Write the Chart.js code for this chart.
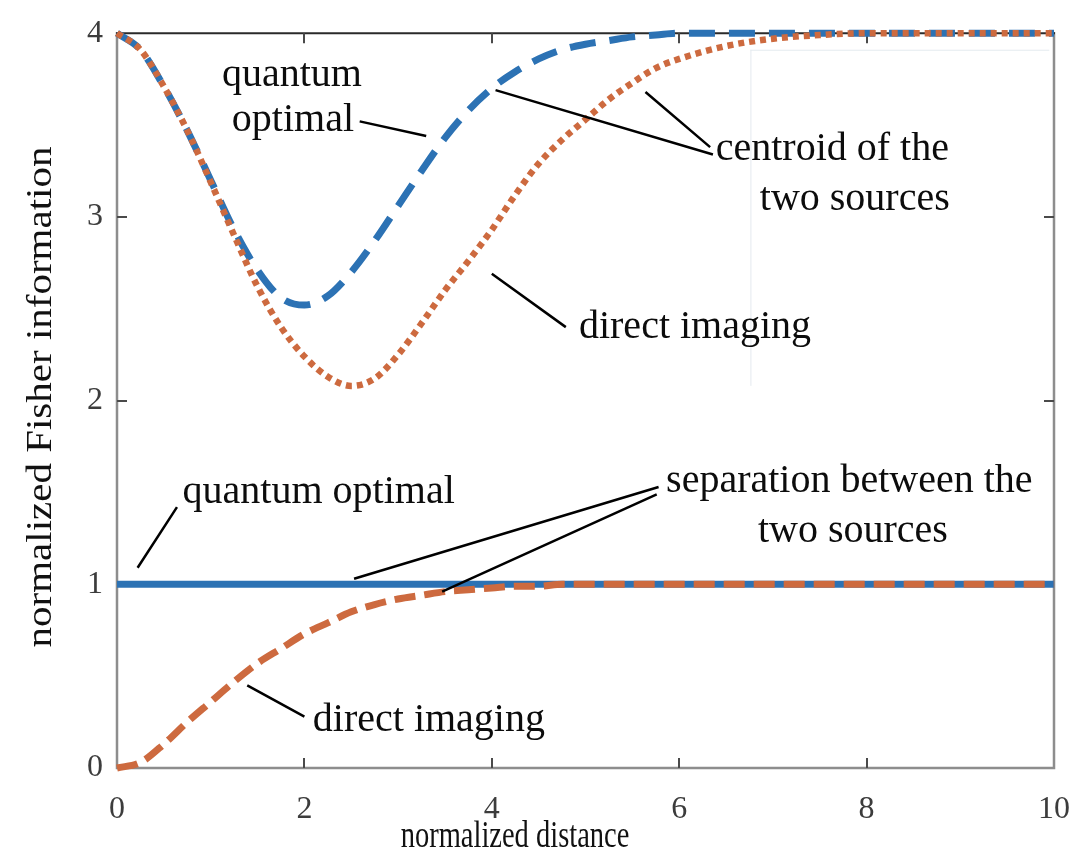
<!DOCTYPE html>
<html>
<head>
<meta charset="utf-8">
<style>
  html, body { margin: 0; padding: 0; background: #ffffff; }
  #chart { display: block; }
</style>
<script src="https://cdn.jsdelivr.net/npm/chart.js@4.4.1/dist/chart.umd.min.js"></script>
</head>
<body>
<canvas id="chart" width="1092" height="855"></canvas>
<script>
// Normalized distance between the two point sources
const distance = [0, 0.25, 0.5, 0.75, 1, 1.25, 1.5, 1.75, 2, 2.25, 2.5, 2.75, 3, 3.25, 3.5, 3.75,
                  4, 4.25, 4.5, 4.75, 5, 5.25, 5.5, 5.75, 6, 6.5, 7, 7.5, 8, 8.5, 9, 9.5, 10];

// Fisher information for estimating the centroid of the two sources
const centroidQuantum = [4.00, 3.91, 3.71, 3.47, 3.20, 2.93, 2.71, 2.56, 2.52, 2.57, 2.70, 2.87, 3.06, 3.25, 3.43, 3.58,
                         3.70, 3.79, 3.86, 3.91, 3.94, 3.96, 3.98, 3.99, 4.00, 4.00, 4.00, 4.00, 4.00, 4.00, 4.00, 4.00, 4.00];
const centroidDirect  = [4.00, 3.91, 3.71, 3.47, 3.19, 2.90, 2.62, 2.40, 2.24, 2.13, 2.08, 2.12, 2.25, 2.42, 2.60, 2.76,
                         2.93, 3.12, 3.29, 3.42, 3.53, 3.64, 3.73, 3.81, 3.86, 3.93, 3.97, 3.99, 4.00, 4.00, 4.00, 4.00, 4.00];

// Fisher information for estimating the separation between the two sources
const separationQuantum = [1, 1, 1, 1, 1, 1, 1, 1, 1, 1, 1, 1, 1, 1, 1, 1,
                           1, 1, 1, 1, 1, 1, 1, 1, 1, 1, 1, 1, 1, 1, 1, 1, 1];
const separationDirect  = [0.00, 0.03, 0.13, 0.25, 0.36, 0.47, 0.57, 0.65, 0.73, 0.79, 0.85, 0.89, 0.92, 0.94, 0.96, 0.97,
                           0.98, 0.99, 0.99, 1.00, 1.00, 1.00, 1.00, 1.00, 1.00, 1.00, 1.00, 1.00, 1.00, 1.00, 1.00, 1.00, 1.00];

const xTicks = [0, 2, 4, 6, 8, 10];
const yTicks = [0, 1, 2, 3, 4];

const xTitle = 'normalized distance';
const yTitle = 'normalized Fisher information';

// Callout labels: text lines anchored in data units
const callouts = [
  { text: 'quantum',                x: 1.12, y: 3.71, align: 'left' },
  { text: 'optimal',                x: 2.53, y: 3.47, align: 'right' },
  { text: 'centroid of the',        x: 6.39, y: 3.31, align: 'left' },
  { text: 'two sources',            x: 6.86, y: 3.04, align: 'left' },
  { text: 'direct imaging',         x: 4.93, y: 2.34, align: 'left' },
  { text: 'quantum optimal',        x: 0.70, y: 1.44, align: 'left' },
  { text: 'separation between the', x: 5.86, y: 1.50, align: 'left' },
  { text: 'two sources',            x: 6.84, y: 1.23, align: 'left' },
  { text: 'direct imaging',         x: 2.09, y: 0.20, align: 'left' }
];

// Leader lines from the labels to the curves, in data units
const leaders = [
  [2.59, 3.52, 3.30, 3.44],
  [6.36, 3.34, 4.04, 3.69],
  [6.33, 3.38, 5.64, 3.68],
  [4.79, 2.40, 4.00, 2.69],
  [0.64, 1.42, 0.22, 1.09],
  [5.78, 1.53, 2.53, 1.03],
  [5.76, 1.49, 3.47, 0.96],
  [2.00, 0.28, 1.39, 0.45]
];

const BLUE = '#2c72b4';
const ORANGE = '#cd6a3f';
const SERIF = '"Liberation Serif", "Times New Roman", serif';

const toPoints = (ys) => distance.map((x, i) => ({ x: x, y: ys[i] }));

// Axes box with inward tick marks, drawn under the curves
const axesBox = {
  id: 'axesBox',
  beforeDatasetsDraw(chart) {
    const { ctx, chartArea: a, scales: { x, y } } = chart;
    ctx.save();
    // faint edge of a pasted text panel
    ctx.strokeStyle = '#e4eaef';
    ctx.lineWidth = 1;
    ctx.beginPath();
    ctx.moveTo(x.getPixelForValue(6.76) + 0.5, y.getPixelForValue(3.91));
    ctx.lineTo(x.getPixelForValue(6.76) + 0.5, y.getPixelForValue(2.08));
    ctx.moveTo(x.getPixelForValue(6.76), y.getPixelForValue(3.91) + 0.5);
    ctx.lineTo(x.getPixelForValue(9.95), y.getPixelForValue(3.91) + 0.5);
    ctx.stroke();

    ctx.lineCap = 'square';
    ctx.strokeStyle = '#8d8d8d';
    ctx.lineWidth = 2.5;
    ctx.beginPath();
    ctx.moveTo(a.left, a.top);
    ctx.lineTo(a.left, a.bottom);
    ctx.lineTo(a.right, a.bottom);
    ctx.lineTo(a.right, a.top);
    ctx.stroke();
    ctx.strokeStyle = '#2a2a2a';
    ctx.lineWidth = 2;
    ctx.beginPath();
    ctx.moveTo(a.left, a.top);
    ctx.lineTo(a.right, a.top);
    ctx.stroke();

    ctx.lineCap = 'butt';
    ctx.lineWidth = 2;
    const len = 10;
    ctx.strokeStyle = '#4a4a4a';
    ctx.beginPath();
    xTicks.forEach(v => {
      const px = Math.round(x.getPixelForValue(v));
      if (v === x.min || v === x.max) return;
      ctx.moveTo(px, a.bottom); ctx.lineTo(px, a.bottom - len);
      ctx.moveTo(px, a.top); ctx.lineTo(px, a.top + len);
    });
    yTicks.forEach(v => {
      const py = Math.round(y.getPixelForValue(v));
      if (v === y.min || v === y.max) return;
      ctx.moveTo(a.left, py); ctx.lineTo(a.left + len, py);
      ctx.moveTo(a.right, py); ctx.lineTo(a.right - len, py);
    });
    ctx.stroke();
    ctx.restore();
  },
  afterDatasetsDraw(chart) {
    const { ctx, scales: { x, y } } = chart;
    ctx.save();
    ctx.strokeStyle = '#000000';
    ctx.lineWidth = 2.5;
    ctx.lineCap = 'butt';
    ctx.beginPath();
    leaders.forEach(([x1, y1, x2, y2]) => {
      ctx.moveTo(x.getPixelForValue(x1), y.getPixelForValue(y1));
      ctx.lineTo(x.getPixelForValue(x2), y.getPixelForValue(y2));
    });
    ctx.stroke();

    ctx.fillStyle = '#0c0c0c';
    ctx.font = '40px ' + SERIF;
    ctx.textBaseline = 'alphabetic';
    callouts.forEach(c => {
      ctx.textAlign = c.align;
      ctx.fillText(c.text, x.getPixelForValue(c.x), y.getPixelForValue(c.y));
    });

    // axis titles, set slightly condensed
    ctx.fillStyle = '#111111';
    ctx.textAlign = 'center';
    ctx.save();
    ctx.translate(515, 847);
    ctx.scale(0.75, 1);
    ctx.font = '38px ' + SERIF;
    ctx.fillText(xTitle, 0, 0);
    ctx.restore();

    ctx.save();
    ctx.translate(51, 397);
    ctx.rotate(-Math.PI / 2);
    ctx.scale(1, 0.85);
    ctx.font = '41px ' + SERIF;
    ctx.fillText(yTitle, 0, 0);
    ctx.restore();
    ctx.restore();
  }
};

new Chart(document.getElementById('chart'), {
  type: 'line',
  data: {
    datasets: [
      {
        label: 'direct imaging (separation)',
        data: toPoints(separationDirect),
        borderColor: ORANGE,
        borderWidth: 7,
        borderDash: [21, 9],
        cubicInterpolationMode: 'monotone',
        pointRadius: 0,
        clip: 10
      },
      {
        label: 'direct imaging (centroid)',
        data: toPoints(centroidDirect),
        borderColor: ORANGE,
        borderWidth: 6.5,
        borderDash: [6, 5],
        cubicInterpolationMode: 'monotone',
        pointRadius: 0,
        clip: 10
      },
      {
        label: 'quantum optimal (separation)',
        data: toPoints(separationQuantum),
        borderColor: BLUE,
        borderWidth: 7,
        pointRadius: 0,
        clip: 10
      },
      {
        label: 'quantum optimal (centroid)',
        data: toPoints(centroidQuantum),
        borderColor: BLUE,
        borderWidth: 7,
        borderDash: [26, 14],
        cubicInterpolationMode: 'monotone',
        pointRadius: 0,
        clip: 10
      }
    ]
  },
  options: {
    responsive: false,
    devicePixelRatio: 1,
    animation: false,
    events: [],
    layout: { autoPadding: false, padding: { left: 0, top: 28, right: 35, bottom: 0 } },
    plugins: {
      legend: { display: false },
      tooltip: { enabled: false },
      title: { display: false }
    },
    scales: {
      x: {
        type: 'linear',
        min: 0,
        max: 10,
        afterBuildTicks: (s) => { s.ticks = xTicks.map(v => ({ value: v })); },
        afterFit: (s) => { s.height = 87; },
        grid: { display: false, drawTicks: false },
        border: { display: false },
        ticks: {
          padding: 22,
          maxRotation: 0,
          color: '#3c3c3c',
          font: { family: SERIF, size: 32 }
        }
      },
      y: {
        type: 'linear',
        min: 0,
        max: 4,
        afterBuildTicks: (s) => { s.ticks = yTicks.map(v => ({ value: v })); },
        afterFit: (s) => { s.width = 117; },
        grid: { display: false, drawTicks: false },
        border: { display: false },
        ticks: {
          padding: 14,
          color: '#3c3c3c',
          font: { family: SERIF, size: 32 }
        }
      }
    }
  },
  plugins: [axesBox]
});
</script>
</body>
</html>
